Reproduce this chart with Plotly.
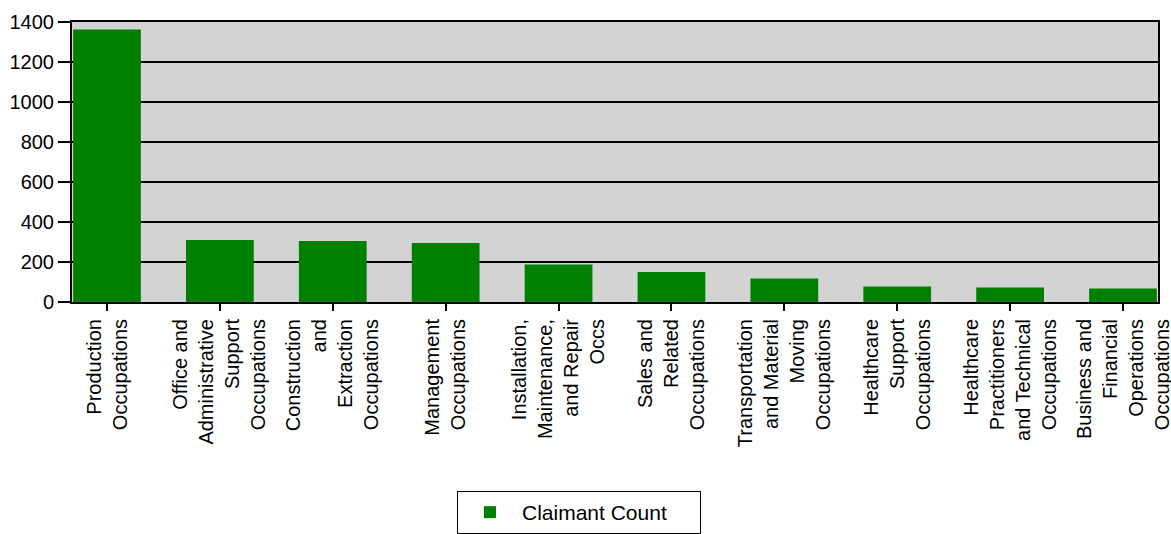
import plotly.graph_objects as go

categories = [
    "Production<br>Occupations",
    "Office and<br>Administrative<br>Support<br>Occupations",
    "Construction<br>and<br>Extraction<br>Occupations",
    "Management<br>Occupations",
    "Installation,<br>Maintenance,<br>and Repair<br>Occs",
    "Sales and<br>Related<br>Occupations",
    "Transportation<br>and Material<br>Moving<br>Occupations",
    "Healthcare<br>Support<br>Occupations",
    "Healthcare<br>Practitioners<br>and Technical<br>Occupations",
    "Business and<br>Financial<br>Operations<br>Occupations",
]
claimant_count = [1362, 310, 305, 295, 187, 150, 117, 78, 72, 68]
y_ticks = [0, 200, 400, 600, 800, 1000, 1200, 1400]

FONT = "Liberation Sans, Arial, sans-serif"

fig = go.Figure()
fig.add_trace(go.Bar(
    x=categories,
    y=claimant_count,
    name="Claimant Count",
    marker=dict(color="#008000", line=dict(width=0)),
    width=0.6,
))

fig.update_layout(
    width=1171,
    height=534,
    margin=dict(l=72, r=13, t=22, b=232, autoexpand=False),
    paper_bgcolor="white",
    plot_bgcolor="#d3d3d3",
    font=dict(family=FONT, size=20, color="black"),
    showlegend=True,
    legend=dict(
        orientation="h",
        x=(457 - 72) / 1086, xanchor="left",
        y=(302 - 491) / 280, yanchor="top",
        bordercolor="black", borderwidth=1,
        bgcolor="white",
        font=dict(family=FONT, size=21, color="black"),
        itemwidth=54,
        entrywidth=173,
    ),
    xaxis=dict(
        type="category",
        automargin=False,
        range=[-0.31, 9.31],
        tickangle=-90,
        ticks="outside", ticklen=7, tickwidth=2, tickcolor="black",
        showline=True, linecolor="black", linewidth=2, mirror=True,
        showgrid=False,
        tickfont=dict(family=FONT, size=20, color="black"),
    ),
    yaxis=dict(
        automargin=False,
        range=[0, 1400],
        tickvals=y_ticks,
        ticks="outside", ticklen=12, tickwidth=2, tickcolor="black",
        showline=True, linecolor="black", linewidth=2, mirror=True,
        showgrid=True, gridcolor="black", gridwidth=2,
        zeroline=False,
        tickfont=dict(family=FONT, size=20, color="black"),
    ),
)

fig.write_html(
    "out.html",
    config={"displayModeBar": False},
    post_script="document.body.style.margin='0';document.body.style.overflow='hidden';",
)
